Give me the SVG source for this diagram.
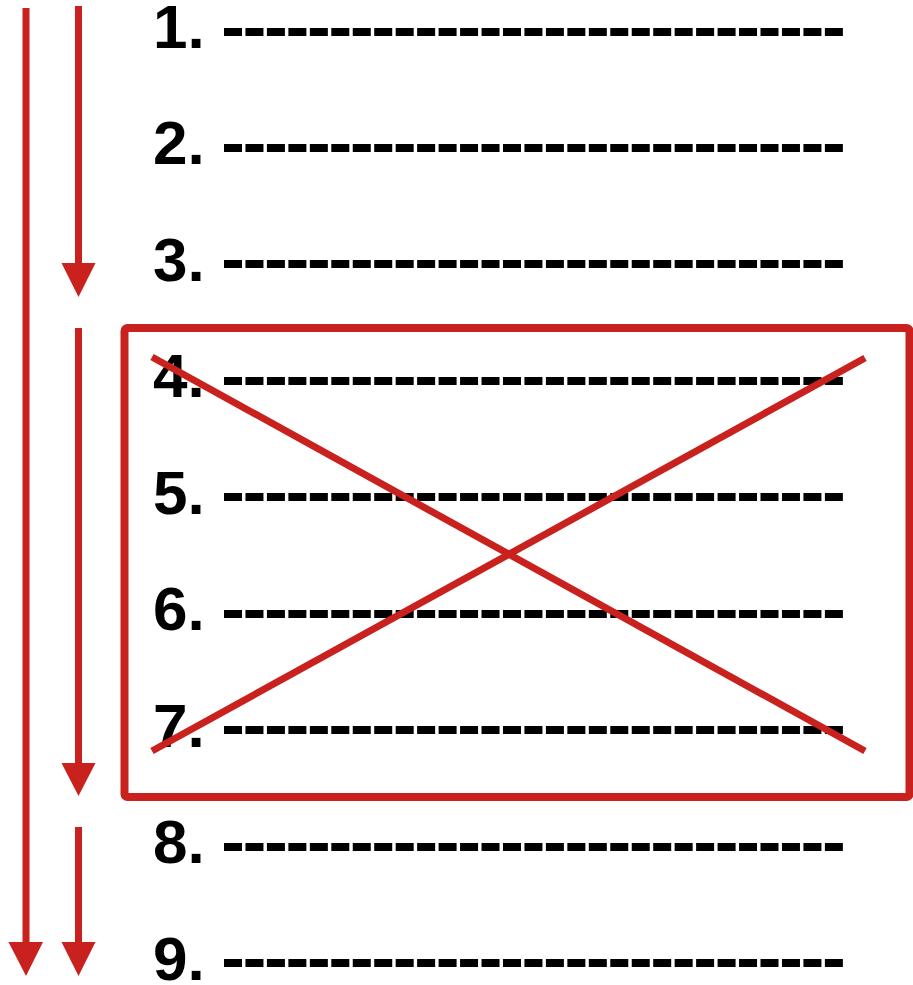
<svg xmlns="http://www.w3.org/2000/svg" width="913" height="985" viewBox="0 0 913 985">
<style>
.num{font-family:"Liberation Sans",Arial,sans-serif;font-weight:bold;font-size:62px;fill:#000}
.dash{stroke:#000;stroke-width:8;stroke-dasharray:18 3.46;fill:none}
.red{stroke:#c9211e;fill:none}
.head{fill:#c9211e}
</style>
<rect width="913" height="985" fill="#fff"/>
<g id="items">
<g id="item1"><text class="num" x="153" y="48">1.</text><line class="dash" x1="224" y1="32" x2="843" y2="32"/></g>
<g id="item2"><text class="num" x="153" y="164">2.</text><line class="dash" x1="224" y1="148" x2="843" y2="148"/></g>
<g id="item3"><text class="num" x="153" y="281">3.</text><line class="dash" x1="224" y1="264" x2="843" y2="264"/></g>
<g id="item4"><text class="num" x="153" y="397">4.</text><line class="dash" x1="224" y1="381" x2="843" y2="381"/></g>
<g id="item5"><text class="num" x="153" y="514">5.</text><line class="dash" x1="224" y1="497" x2="843" y2="497"/></g>
<g id="item6"><text class="num" x="153" y="630">6.</text><line class="dash" x1="224" y1="614" x2="843" y2="614"/></g>
<g id="item7"><text class="num" x="153" y="747">7.</text><line class="dash" x1="224" y1="730" x2="843" y2="730"/></g>
<g id="item8"><text class="num" x="153" y="863">8.</text><line class="dash" x1="224" y1="847" x2="843" y2="847"/></g>
<g id="item9"><text class="num" x="153" y="980">9.</text><line class="dash" x1="224" y1="963" x2="843" y2="963"/></g>
</g>
<g id="removed-block">
<rect class="red" x="124.5" y="328" width="785" height="469" rx="3" stroke-width="8"/>
<line class="red" x1="152" y1="357" x2="865" y2="751" stroke-width="7"/>
<line class="red" x1="152" y1="751" x2="865" y2="358" stroke-width="7"/>
</g>
<g id="connectors">
<line class="red" x1="26" y1="8" x2="26" y2="944" stroke-width="7"/>
<polygon class="head" points="8.5,942 43,942 26,976"/>
<line class="red" x1="78.5" y1="6" x2="78.5" y2="265" stroke-width="7"/>
<polygon class="head" points="61.5,263 95.5,263 78.5,297"/>
<line class="red" x1="78.5" y1="328" x2="78.5" y2="765" stroke-width="7"/>
<polygon class="head" points="61.5,763 95.5,763 78.5,796"/>
<line class="red" x1="78.5" y1="827" x2="78.5" y2="944" stroke-width="7"/>
<polygon class="head" points="61.5,942 95.5,942 78.5,976"/>
</g>
</svg>
